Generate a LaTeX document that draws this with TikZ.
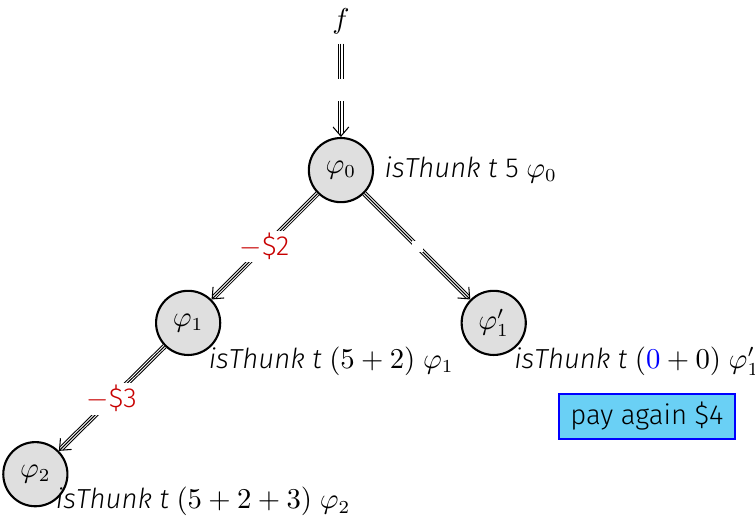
\documentclass[tikz,border=0pt]{standalone}
\usepackage{fontspec}
\setmainfont{Fira Sans}[UprightFont=* Light, ItalicFont=* Light Italic]
\usetikzlibrary{positioning}
\usetikzlibrary{arrows.meta}
\definecolor{paycyan}{RGB}{106,208,245}
\definecolor{costred}{RGB}{200,0,0}
\tikzset{state/.style={circle, draw, thick, fill=gray!25, minimum size=0.86cm, inner sep=0pt}}

\begin{document}
\begin{tikzpicture}[
    node distance=1.4cm,
    font=\fontsize{10.5}{12.6}\selectfont,
    triple/.style={line width=2pt, shorten >=1.5pt,
        postaction={draw, white, line width=1.2pt, shorten >=1.5pt},
        postaction={draw, black, line width=0.4pt, shorten >=0pt, -{Straight Barb[length=3.5pt, width=6pt]}}},
    cost/.style={fill=white, text=costred, inner sep=1pt},
    gap/.style={fill=white, inner sep=0pt, minimum size=#1},
    note/.style={inner sep=1pt},
    pay/.style={rectangle, draw=blue, thick, fill=paycyan, minimum width=2.35cm, minimum height=0.55cm}
]
\useasboundingbox (-4.57,-4.70) rectangle (5.55,2.28);

% Nodes
\node[state] (phi0) {$\varphi_0$};
\node (f) [above=1.25cm of phi0] {$f$};
\node[state] (phi1) [below left=1.42cm and 1.42cm of phi0] {$\varphi_1$};
\node[state] (phi1p) [below right=1.42cm and 1.42cm of phi0] {$\varphi'_1$};
\node[state] (phi2) [below left=1.4cm and 1.42cm of phi1] {$\varphi_2$};

% Paths
\draw[triple] (f) -- node[gap=8.4pt] {} (phi0);
\draw[triple] (phi0) -- node[cost] {$-$\$2} (phi1);
\draw[triple] (phi0) -- node[gap=4.2pt] {} (phi1p);
\draw[triple] (phi1) -- node[cost] {$-$\$3} (phi2);

% Annotations
\node[note, right=0.1cm of phi0] (lab0) {\textit{isThunk t} 5 $\varphi_0$};
\node[note, below right=-0.04cm and -0.08cm of phi1] (lab1) {\textit{isThunk t} $(5+2)$ $\varphi_1$};
\node[note, below right=-0.04cm and -0.08cm of phi1p] (lab1p) {\textit{isThunk t} $(\textcolor{blue}{0}+0)$ $\varphi'_1$};
\node[note, below right=-0.18cm and -0.08cm of phi2] (lab2) {\textit{isThunk t} $(5+2+3)$ $\varphi_2$};
\node[pay, below right=0.62cm and 0.55cm of phi1p] (again) {pay again \$4};

\end{tikzpicture}
\end{document}
